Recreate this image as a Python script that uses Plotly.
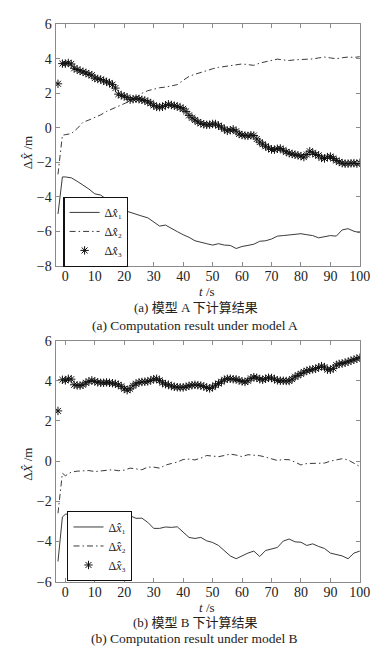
import plotly.graph_objects as go

# ---------------- data ----------------
t_line = [-2.5, -1, 0] + list(range(2, 101, 2))
t_mark = [-2.5] + list(range(-1, 101))

a_x1 = [-5.0, -2.85, -2.85, -2.9, -3.1, -3.3, -3.55, -3.83, -3.9, -4.15, -4.5, -4.68, -4.8, -4.88,
        -5.0, -5.12, -5.22, -5.45, -5.7, -5.64, -5.85, -6.02, -6.2, -6.35, -6.55, -6.65, -6.72,
        -6.8, -6.72, -6.8, -6.82, -7.0, -6.88, -6.82, -6.75, -6.58, -6.55, -6.45, -6.28, -6.25,
        -6.22, -6.18, -6.14, -6.2, -6.25, -6.38, -6.32, -6.25, -6.28, -5.92, -5.85, -6.0, -6.08]
a_x2 = [-2.7, -0.43, -0.4, -0.34, -0.05, 0.32, 0.45, 0.59, 0.75, 0.95, 1.1, 1.25, 1.4, 1.55,
        1.75, 2.0, 2.15, 2.25, 2.32, 2.36, 2.42, 2.5, 2.75, 2.98, 3.1, 3.22, 3.32, 3.42, 3.5,
        3.55, 3.62, 3.68, 3.7, 3.66, 3.62, 3.75, 3.83, 3.9, 3.98, 3.93, 3.9, 3.94, 3.96, 3.95,
        3.99, 4.05, 4.1, 4.05, 4.0, 4.06, 4.1, 4.08, 4.12]
a_x3 = [2.55, 3.72, 3.72, 3.76, 3.7, 3.45, 3.38, 3.3, 3.24, 3.18, 3.1, 3.05, 2.88, 2.83, 2.8,
        2.72, 2.66, 2.6, 2.5, 2.3, 1.95, 1.88, 1.83, 1.76, 1.63, 1.66, 1.69, 1.66, 1.62, 1.58,
        1.5, 1.43, 1.3, 1.21, 1.2, 1.22, 1.3, 1.36, 1.32, 1.28, 1.24, 1.17, 1.1, 0.95, 0.72,
        0.58, 0.45, 0.34, 0.26, 0.2, 0.17, 0.18, 0.22, 0.22, 0.12, 0.04, -0.08, -0.18, -0.14,
        -0.09, -0.2, -0.36, -0.42, -0.45, -0.47, -0.43, -0.45, -0.65, -0.83, -0.95, -1.07,
        -1.17, -1.26, -1.27, -1.22, -1.2, -1.3, -1.4, -1.47, -1.52, -1.56, -1.6, -1.64, -1.7,
        -1.55, -1.36, -1.45, -1.55, -1.6, -1.75, -1.78, -1.7, -1.67, -1.78, -1.9, -1.98, -2.05,
        -2.08, -2.08, -2.06, -2.05, -2.08, -2.03]

b_x1 = [-5.0, -2.78, -2.65, -2.6, -2.65, -2.68, -2.68, -2.75, -2.89, -2.88, -2.8, -2.89, -2.74,
        -2.72, -2.85, -2.84, -3.05, -3.35, -3.35, -3.28, -3.3, -3.27, -3.55, -3.8, -3.85, -3.8,
        -3.97, -4.05, -4.2, -4.45, -4.72, -4.86, -4.7, -4.58, -4.48, -4.75, -4.45, -4.38, -4.3,
        -3.98, -3.88, -4.02, -4.04, -4.2, -4.12, -4.25, -4.35, -4.58, -4.65, -4.72, -4.86,
        -4.58, -4.48]
b_x2 = [-2.6, -0.6, -0.73, -0.55, -0.5, -0.48, -0.47, -0.52, -0.5, -0.47, -0.43, -0.48, -0.45,
        -0.35, -0.4, -0.43, -0.3, -0.3, -0.35, -0.2, -0.12, -0.05, 0.08, 0.1, 0.06, 0.15, 0.28,
        0.25, 0.22, 0.28, 0.35, 0.3, 0.22, 0.32, 0.3, 0.27, 0.2, 0.12, 0.03, 0.08, 0.07, -0.05,
        -0.19, -0.12, -0.11, -0.13, -0.1, 0.0, 0.06, 0.12, 0.06, -0.12, -0.27]
b_x3 = [2.5, 4.05, 4.02, 4.1, 4.08, 3.8, 3.77, 3.76, 3.8, 3.9, 3.97, 4.02, 3.97, 3.92, 3.9, 3.9,
        3.92, 3.9, 3.88, 3.85, 3.8, 3.72, 3.6, 3.53, 3.6, 3.75, 3.85, 3.92, 3.94, 3.95, 3.97,
        4.02, 4.08, 4.1, 4.02, 3.9, 3.83, 3.8, 3.74, 3.7, 3.68, 3.67, 3.67, 3.7, 3.75, 3.78,
        3.8, 3.78, 3.76, 3.72, 3.66, 3.62, 3.68, 3.78, 3.86, 3.95, 4.05, 4.1, 4.1, 4.08, 4.07,
        4.02, 3.97, 3.94, 4.0, 4.12, 4.18, 4.15, 4.08, 4.05, 4.1, 4.15, 4.14, 4.08, 4.02, 4.0,
        4.0, 3.99, 3.99, 4.08, 4.2, 4.27, 4.35, 4.43, 4.5, 4.54, 4.57, 4.6, 4.66, 4.73, 4.68,
        4.55, 4.55, 4.62, 4.78, 4.84, 4.86, 4.9, 4.95, 5.0, 5.05, 5.1, 5.15]

x_ticks = [0, 10, 20, 30, 40, 50, 60, 70, 80, 90, 100]
a_yticks = [-8, -6, -4, -2, 0, 2, 4, 6]
b_yticks = [-6, -4, -2, 0, 2, 4, 6]
names = ["Δ<i>x̂</i>₁", "Δ<i>x̂</i>₂", "Δ<i>x̂</i>₃"]

# ---------------- figure ----------------
W, H = 392, 650
SERIF = "Liberation Serif, DejaVu Serif, serif"
CJK = "Noto Sans CJK SC"
LINE_C = "#3a3a3a"
FRAME_C = "#8a8a8a"

def minus(v):
    return str(v).replace("-", "−")

fig = go.Figure()

def add_panel(xa, ya, leg, x1, x2, x3):
    fig.add_trace(go.Scatter(x=t_line, y=x1, mode="lines", name=names[0], xaxis=xa, yaxis=ya,
                             legend=leg, line=dict(color=LINE_C, width=1)))
    fig.add_trace(go.Scatter(x=t_line, y=x2, mode="lines", name=names[1], xaxis=xa, yaxis=ya,
                             legend=leg, line=dict(color=LINE_C, width=1, dash="6px,3px,1.5px,3px")))
    fig.add_trace(go.Scatter(x=t_mark, y=x3, mode="markers", name=names[2], xaxis=xa, yaxis=ya,
                             legend=leg,
                             marker=dict(symbol="asterisk-open", size=7, color="#111",
                                         line=dict(color="#111", width=1))))

add_panel("x", "y", "legend", a_x1, a_x2, a_x3)
add_panel("x2", "y2", "legend2", b_x1, b_x2, b_x3)

xd = [49 / W, 362 / W]
axis_common = dict(showline=True, linecolor=FRAME_C, linewidth=1.2, mirror="ticks",
                   ticks="inside", ticklen=4, tickcolor=FRAME_C, showgrid=False, zeroline=False,
                   tickfont=dict(family=SERIF, size=14, color="#222"))

leg_common = dict(xanchor="left", yanchor="top", bgcolor="white", bordercolor="#111",
                  borderwidth=1.2, font=dict(family=SERIF, size=12, color="#222"),
                  tracegroupgap=0, itemwidth=30)

fig.update_layout(
    width=W, height=H, margin=dict(l=0, r=0, t=0, b=0),
    paper_bgcolor="white", plot_bgcolor="white",
    xaxis=dict(domain=xd, range=[-3.3, 100], tickvals=x_ticks, ticktext=[str(v) for v in x_ticks],
               anchor="y", ticklabelstandoff=-3, **axis_common),
    yaxis=dict(domain=[1 - 256.7 / H, 1 - 9.5 / H], range=[-8, 6], tickvals=a_yticks,
               ticktext=[minus(v) for v in a_yticks], anchor="x", **axis_common),
    xaxis2=dict(domain=xd, range=[-3.3, 100], tickvals=x_ticks, ticktext=[str(v) for v in x_ticks],
                anchor="y2", ticklabelstandoff=-3, **axis_common),
    yaxis2=dict(domain=[1 - 580 / H, 1 - 333.3 / H], range=[-6, 6], tickvals=b_yticks,
                ticktext=[minus(v) for v in b_yticks], anchor="x2", **axis_common),
    legend=dict(x=57 / W, y=1 - 186 / H, **leg_common),
    legend2=dict(x=61 / W, y=1 - 508 / H, **leg_common),
    showlegend=True,
)

def ann(text, x_px, y_px, size=13, family=SERIF, angle=0):
    fig.add_annotation(text=text, x=x_px / W, y=1 - y_px / H, xref="paper", yref="paper",
                       showarrow=False, textangle=angle, xanchor="center", yanchor="middle",
                       font=dict(family=family, size=size, color="#222"))

ann("Δ<i>X̂</i> /m", 20, 141, angle=-90)
ann("Δ<i>X̂</i> /m", 20, 460, angle=-90)
ann("<i>t</i> /s", 205, 283)
ann("<i>t</i> /s", 205, 606)
ann("(a) 模型 A 下计算结果", 193, 299, size=13, family=SERIF + ", " + CJK)
ann("(a) Computation result under model A", 192, 318, size=13.5)
ann("(b) 模型 B 下计算结果", 193, 622, size=13, family=SERIF + ", " + CJK)
ann("(b) Computation result under model B", 192, 638, size=13.5)

fig.write_html("out.html")
